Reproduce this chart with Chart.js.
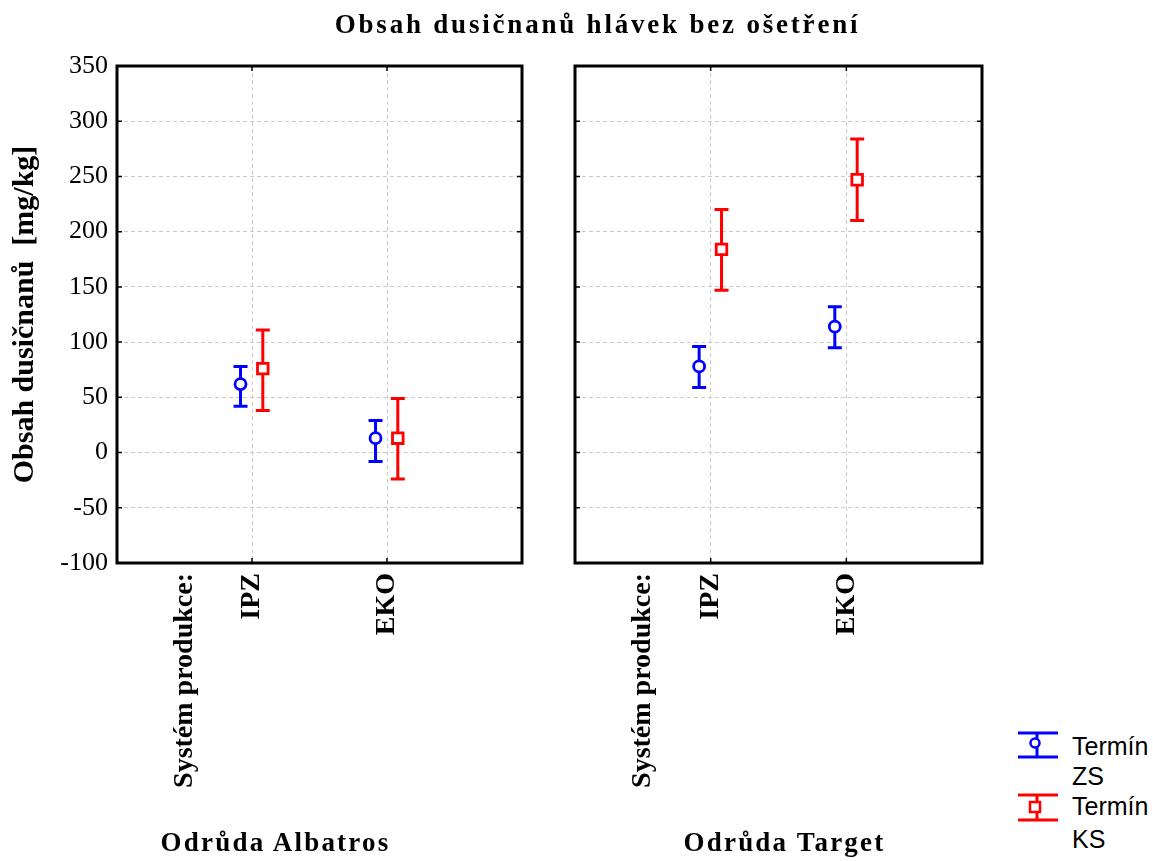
<!DOCTYPE html>
<html>
<head>
<meta charset="utf-8">
<script src="https://cdn.jsdelivr.net/npm/chart.js@4.4.1/dist/chart.umd.min.js"></script>
<style>
  html, body { margin: 0; padding: 0; background: #fff; }
  #wrap { position: relative; width: 1153px; height: 861px; overflow: hidden; background: #fff; }
  .pane { position: absolute; top: 0; height: 861px; }
  .txt { position: absolute; white-space: nowrap; color: #000; }
  .serifb { font-family: "Liberation Serif", "Times New Roman", serif; font-weight: bold; }
  .sans { font-family: "Liberation Sans", Arial, sans-serif; font-size: 25px; line-height: 25px; }
</style>
</head>
<body>
<div id="wrap">
  <div class="pane" style="left:0; width:545px;"><canvas id="albatros"></canvas></div>
  <div class="pane" style="left:545px; width:460px;"><canvas id="target"></canvas></div>

  <div id="mainTitle" class="txt serifb" style="left:0; width:1195px; text-align:center; top:9px; font-size:27px; line-height:30px; letter-spacing:2.8px;"></div>
  <div id="panelLeft" class="txt serifb" style="left:74px; width:403px; text-align:center; top:827px; font-size:27px; line-height:30px; letter-spacing:2.2px;"></div>
  <div id="panelRight" class="txt serifb" style="left:583px; width:403px; text-align:center; top:827px; font-size:27px; line-height:30px; letter-spacing:2.2px;"></div>

  <svg class="txt" style="left:1010px; top:725px;" width="60" height="110">
    <g stroke="#0000ff" stroke-width="3" fill="#fff">
      <line x1="8" y1="8" x2="48" y2="8"/>
      <line x1="8" y1="32" x2="48" y2="32"/>
      <line x1="27" y1="8" x2="27" y2="32"/>
      <circle cx="25" cy="18" r="4.5" stroke-width="2.5"/>
    </g>
    <g stroke="#ff0000" stroke-width="3" fill="#fff">
      <line x1="8" y1="70" x2="48" y2="70"/>
      <line x1="8" y1="95" x2="48" y2="95"/>
      <line x1="27" y1="70" x2="27" y2="95"/>
      <rect x="20" y="77" width="10" height="10" stroke-width="2.5"/>
    </g>
  </svg>
  <div id="leg1a" class="txt sans" style="left:1072px; top:734px;"></div>
  <div id="leg1b" class="txt sans" style="left:1072px; top:764px;"></div>
  <div id="leg2a" class="txt sans" style="left:1072px; top:794px;"></div>
  <div id="leg2b" class="txt sans" style="left:1072px; top:827px;"></div>
</div>

<script>
// Nitrate content of untreated heads, mean with confidence interval
const chartTitle = 'Obsah dusičnanů hlávek bez ošetření';
const yAxisTitle = 'Obsah dusičnanů  [mg/kg]';
const axisLead = 'Systém produkce:';
const systems = ['IPZ', 'EKO'];
const varieties = ['Odrůda Albatros', 'Odrůda Target'];
const seriesNames = [['Termín', 'ZS'], ['Termín', 'KS']];

const yMin = -100;
const yMax = 350;
const yStep = 50;

// Odrůda Albatros
const albatrosZsMean = [62, 13];
const albatrosZsLow  = [42, -8];
const albatrosZsHigh = [78, 29];
const albatrosKsMean = [76, 13];
const albatrosKsLow  = [38, -24];
const albatrosKsHigh = [111, 49];

// Odrůda Target
const targetZsMean = [78, 114];
const targetZsLow  = [59, 95];
const targetZsHigh = [96, 132];
const targetKsMean = [184, 247];
const targetKsLow  = [147, 210];
const targetKsHigh = [220, 284];

const BLUE = '#0000ff';
const RED = '#ff0000';
const SERIF = '"Liberation Serif", "Times New Roman", serif';
const SHIFT_ZS = -0.085;
const SHIFT_KS = 0.08;

document.getElementById('mainTitle').textContent = chartTitle;
document.getElementById('panelLeft').textContent = varieties[0];
document.getElementById('panelRight').textContent = varieties[1];
document.getElementById('leg1a').textContent = seriesNames[0][0];
document.getElementById('leg1b').textContent = seriesNames[0][1];
document.getElementById('leg2a').textContent = seriesNames[1][0];
document.getElementById('leg2b').textContent = seriesNames[1][1];

function points(mean, low, high, shift) {
  return mean.map((m, i) => ({ x: i + 1 + shift, y: m, yMin: low[i], yMax: high[i] }));
}

// whiskers under the markers
const errorBars = {
  id: 'errorBars',
  beforeDatasetsDraw(chart) {
    const ctx = chart.ctx;
    const ys = chart.scales.y;
    chart.data.datasets.forEach((ds, di) => {
      const meta = chart.getDatasetMeta(di);
      ctx.save();
      ctx.strokeStyle = ds.borderColor;
      ctx.lineWidth = 3;
      meta.data.forEach((el, i) => {
        const d = ds.data[i];
        const top = ys.getPixelForValue(d.yMax);
        const bot = ys.getPixelForValue(d.yMin);
        const half = 7;
        ctx.beginPath();
        ctx.moveTo(el.x, top); ctx.lineTo(el.x, bot);
        ctx.moveTo(el.x - half, top); ctx.lineTo(el.x + half, top);
        ctx.moveTo(el.x - half, bot); ctx.lineTo(el.x + half, bot);
        ctx.stroke();
      });
      ctx.restore();
    });
  }
};

// plot frame with inward tick marks
const frame = {
  id: 'frame',
  afterDraw(chart) {
    const ctx = chart.ctx;
    const a = chart.chartArea;
    const ys = chart.scales.y;
    const xs = chart.scales.x;
    ctx.save();
    ctx.strokeStyle = '#000';
    ctx.lineWidth = 1.5;
    ctx.beginPath();
    for (let v = yMin + yStep; v < yMax; v += yStep) {
      const p = ys.getPixelForValue(v);
      ctx.moveTo(a.left, p); ctx.lineTo(a.left + 5, p);
      ctx.moveTo(a.right, p); ctx.lineTo(a.right - 5, p);
    }
    systems.forEach((s, i) => {
      const p = xs.getPixelForValue(i + 1);
      ctx.moveTo(p, a.bottom); ctx.lineTo(p, a.bottom - 5);
      ctx.moveTo(p, a.top); ctx.lineTo(p, a.top + 5);
    });
    ctx.stroke();
    ctx.lineWidth = 3;
    ctx.strokeRect(a.left, a.top, a.right - a.left, a.bottom - a.top);
    ctx.restore();
  }
};

function makeChart(id, zsMean, zsLow, zsHigh, ksMean, ksLow, ksHigh, withY, axisWidth, padRight) {
  return new Chart(document.getElementById(id), {
    type: 'scatter',
    data: {
      datasets: [
        {
          label: seriesNames[0].join(' '),
          data: points(zsMean, zsLow, zsHigh, SHIFT_ZS),
          borderColor: BLUE, backgroundColor: '#fff',
          pointStyle: 'circle', pointRadius: 5.5, borderWidth: 2.8
        },
        {
          label: seriesNames[1].join(' '),
          data: points(ksMean, ksLow, ksHigh, SHIFT_KS),
          borderColor: RED, backgroundColor: '#fff',
          pointStyle: 'rect', pointRadius: 7.5, borderWidth: 2.8
        }
      ]
    },
    options: {
      responsive: true,
      maintainAspectRatio: false,
      animation: false,
      layout: { padding: { top: 66, right: padRight, left: 0, bottom: 0 } },
      plugins: { legend: { display: false }, tooltip: { enabled: false }, title: { display: false } },
      scales: {
        x: {
          type: 'linear', min: 0, max: 3,
          afterBuildTicks(scale) {
            scale.ticks = [{ value: 0.5 }].concat(systems.map((s, i) => ({ value: i + 1 })));
          },
          afterFit(scale) { scale.height = 861 - 563; },
          grid: {
            drawTicks: false,
            color: (c) => (c.tick && c.tick.value === 0.5) ? 'rgba(0,0,0,0)' : '#cbcbcb',
            lineWidth: 1
          },
          border: { display: false, dash: [4, 3] },
          ticks: {
            autoSkip: false, minRotation: 90, maxRotation: 90, padding: 10,
            color: '#000',
            font: { family: SERIF, size: 28, weight: 'bold' },
            callback: (v) => v === 0.5 ? axisLead : systems[v - 1]
          }
        },
        y: {
          min: yMin, max: yMax,
          afterFit(scale) { scale.width = axisWidth; },
          grid: { drawTicks: false, color: '#cbcbcb', lineWidth: 1 },
          border: { display: false, dash: [4, 3] },
          ticks: {
            display: withY, stepSize: yStep, padding: 9, color: '#000',
            font: { family: SERIF, size: 26 }
          },
          title: {
            display: withY, text: yAxisTitle, color: '#000',
            font: { family: SERIF, size: 30, weight: 'bold' },
            padding: { top: 7, bottom: 0 }
          }
        }
      }
    },
    plugins: [errorBars, frame]
  });
}

makeChart('albatros', albatrosZsMean, albatrosZsLow, albatrosZsHigh,
          albatrosKsMean, albatrosKsLow, albatrosKsHigh, true, 117, 545 - 522);
makeChart('target', targetZsMean, targetZsLow, targetZsHigh,
          targetKsMean, targetKsLow, targetKsHigh, false, 30, 460 - 437);
</script>
</body>
</html>
